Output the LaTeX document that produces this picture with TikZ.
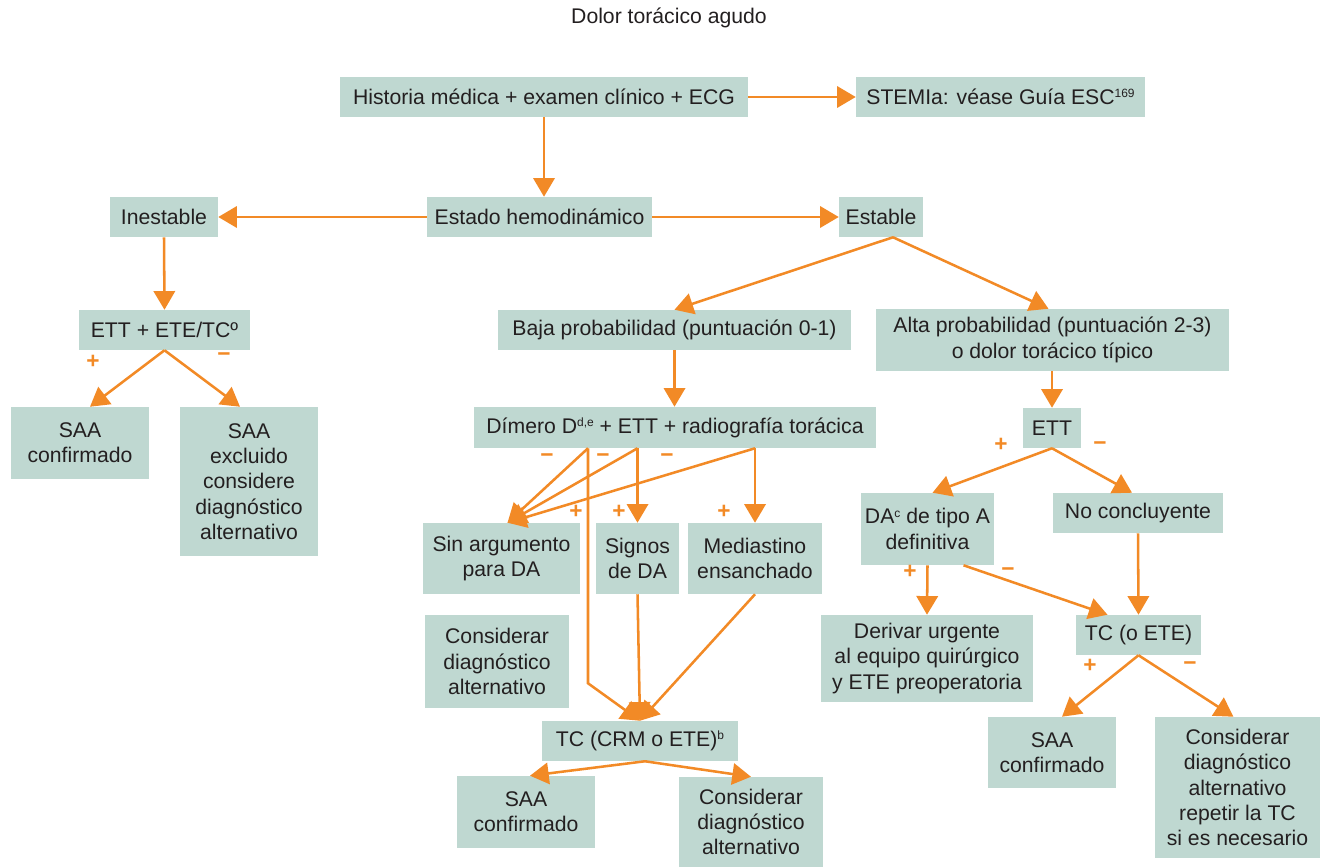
\documentclass[tikz,border=0pt]{standalone}
\usepackage{fontspec}
\setmainfont{Liberation Sans}
\usetikzlibrary{arrows.meta,calc}
\definecolor{boxc}{HTML}{BFD8D1}
\definecolor{org}{HTML}{F28A26}
\definecolor{txt}{HTML}{231F20}
\newcommand\sups[1]{\raisebox{0.6ex}{\fontsize{9}{10}\selectfont #1}}
\newcommand\bx[6]{\node[box, minimum width={(#4-#2)*0.75pt}, minimum height={(#5-#3)*0.75pt}] (#1) at ({(#2+#4)/2},{(#3+#5)/2}) {#6};}
\begin{document}
\begin{tikzpicture}[x=0.75pt,y=-0.75pt,
  box/.style={fill=boxc, text=txt, align=center, inner sep=0pt, font=\fontsize{15.9}{19}\selectfont},
  arr/.style={draw=org, line width=1.9pt, -{Triangle[length=14pt,width=16pt]}},
  sgn/.style={text=org, font=\fontsize{17}{17}\selectfont\bfseries, inner sep=0pt}]
\useasboundingbox (0,0) rectangle (1321,867);
\node[text=txt, font=\fontsize{15.9}{19}\selectfont] (title) at (669,18) {Dolor torácico agudo};
\bx{hist}{340}{77}{748}{117}{Historia médica + examen clínico + ECG}
\bx{stemi}{856}{77}{1145}{117}{STEMIa: véase Guía ESC\sups{169}}
\bx{estado}{427}{197}{652}{237}{Estado hemodinámico}
\bx{inest}{110}{197}{218}{237}{Inestable}
\bx{estab}{839}{197}{923}{237}{Estable}
\bx{ett1}{79}{310}{250}{350}{ETT + ETE/TCº}
\bx{saa1}{11}{407}{149}{479}{SAA\\confirmado}
\bx{saa2}{180}{407}{318}{556}{SAA\\excluido\\considere\\diagnóstico\\alternativo}
\bx{baja}{498}{310}{851}{350}{Baja probabilidad (puntuación 0-1)}
\bx{alta}{876}{309}{1229}{371}{Alta probabilidad (puntuación 2-3)\\o dolor torácico típico}
\bx{dim}{474}{407}{876}{448}{Dímero D\sups{d,e} + ETT + radiografía torácica}
\bx{sinarg}{423}{523}{580}{594}{Sin argumento\\para DA}
\bx{signos}{596}{523}{679}{594}{Signos\\de DA}
\bx{med}{688}{523}{822}{594}{Mediastino\\ensanchado}
\bx{cons1}{425}{615}{569}{708}{Considerar\\diagnóstico\\alternativo}
\bx{tcb}{542}{721}{738}{761}{TC (CRM o ETE)\sups{b}}
\bx{saa3}{457}{776}{595}{848}{SAA\\confirmado}
\bx{cons2}{679}{777}{823}{867}{Considerar\\diagnóstico\\alternativo}
\bx{ett2}{1023}{408}{1081}{448}{ETT}
\bx{da}{861}{493}{994}{565}{DA\sups{c} de tipo A\\definitiva}
\bx{nc}{1053}{493}{1223}{533}{No concluyente}
\bx{der}{821}{615}{1033}{702}{Derivar urgente\\al equipo quirúrgico\\y ETE preoperatoria}
\bx{tce}{1076}{615}{1201}{655}{TC (o ETE)}
\bx{saa4}{988}{717}{1116}{788}{SAA\\confirmado}
\bx{cons4}{1155}{717}{1320}{858}{Considerar\\diagnóstico\\alternativo\\repetir la TC\\si es necesario}
% connectors
\draw[arr] (hist.east) -- (stemi.west);
\draw[arr] (hist.south) -- (hist.south |- estado.north);
\draw[arr] (estado.west) -- (inest.east);
\draw[arr] (estado.east) -- (estab.west);
\draw[arr] (inest.south) -- (ett1.north);
\draw[arr] (ett1.south) -- ($(saa1.north)+(10,0)$);
\draw[arr] (ett1.south) -- ($(saa2.north)+(-9,0)$);
\draw[arr] ($(estab.south)+(12,0)$) -- (baja.north);
\draw[arr] ($(estab.south)+(12,0)$) -- ($(alta.north)+(-4,0)$);
\draw[arr] (baja.south) -- (baja.south |- dim.north);
\draw[arr] (ett2.north |- alta.south) -- (ett2.north);
\draw[arr] ($(dim.south)+(-87,0)$) -- ($(sinarg.north)+(6,0)$);
\draw[arr] (signos.north |- dim.south) -- ($(sinarg.north)+(6,0)$);
\draw[arr] (med.north |- dim.south) -- ($(sinarg.north)+(6,0)$);
\draw[arr] (signos.north |- dim.south) -- (signos.north);
\draw[arr] (med.north |- dim.south) -- (med.north);
\draw[arr] ($(dim.south)+(-87,0)$) -- ($(dim.south)+(-87,235)$) -- (tcb.north);
\draw[arr] (signos.south) -- (tcb.north);
\draw[arr] (med.south) -- (tcb.north);
\draw[arr] ($(tcb.south)+(5,0)$) -- ($(saa3.north)+(4,0)$);
\draw[arr] ($(tcb.south)+(5,0)$) -- (cons2.north);
\draw[arr] (ett2.south) -- ($(da.north)+(5,0)$);
\draw[arr] (ett2.south) -- ($(nc.north)+(-6,0)$);
\draw[arr] (da.south) -- (der.north);
\draw[arr] ($(da.south)+(36,0)$) -- ($(tce.north)+(-31,0)$);
\draw[arr] (nc.south) -- (tce.north);
\draw[arr] (tce.south) -- ($(saa4.north)+(10,0)$);
\draw[arr] (tce.south) -- ($(cons4.north)+(-4,0)$);
% signs
\node[sgn] (s1) at (93,362) {+};
\node[sgn] (s2) at (224,357) {−};
\node[sgn] (s3) at (547,458) {−};
\node[sgn] (s4) at (603,458) {−};
\node[sgn] (s5) at (667,458) {−};
\node[sgn] (s6) at (576,512) {+};
\node[sgn] (s7) at (619,512) {+};
\node[sgn] (s8) at (724,512) {+};
\node[sgn] (s9) at (1001,445) {+};
\node[sgn] (s10) at (1100,446) {−};
\node[sgn] (s11) at (910,572) {+};
\node[sgn] (s12) at (1008,572) {−};
\node[sgn] (s13) at (1090,666) {+};
\node[sgn] (s14) at (1190,666) {−};
\end{tikzpicture}
\end{document}
